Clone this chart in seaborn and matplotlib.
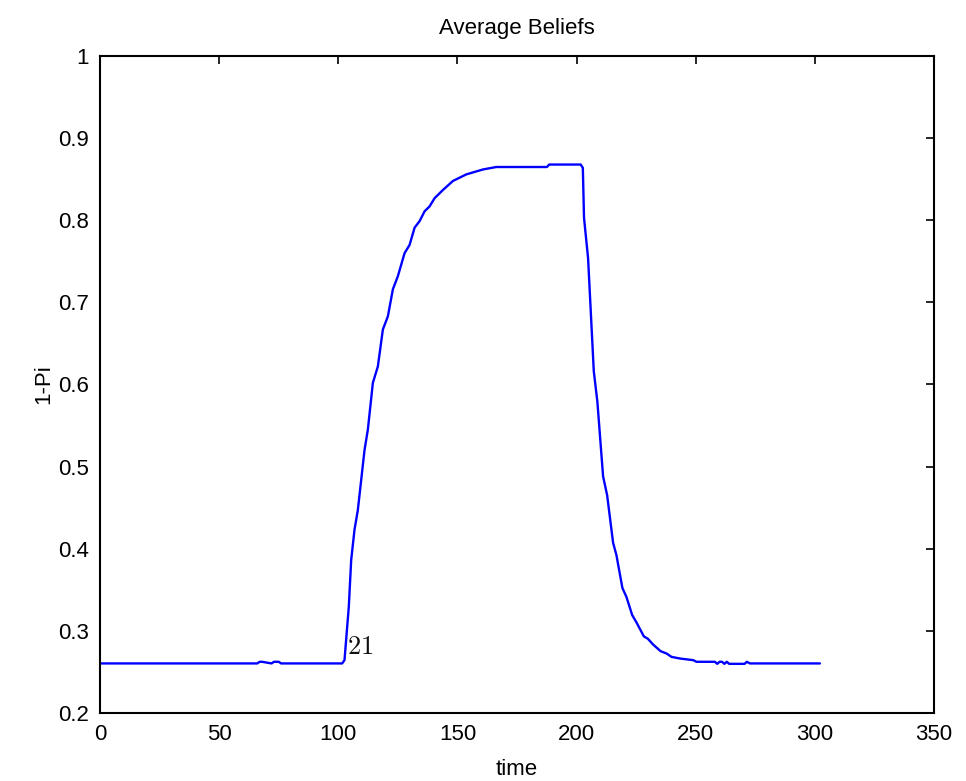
import numpy as np
import pandas as pd
import matplotlib
matplotlib.use("Agg")
import matplotlib.pyplot as plt
import seaborn as sns

# values
time = [0, 66, 67, 68, 72, 73, 75, 76, 101.6,
        102.6, 104.4, 105.4, 106.8, 108.2, 111.0, 112.4, 114.5, 116.6, 118.7,
        120.8, 122.9, 125.0, 127.8, 129.9, 132.0, 134.1, 136.2, 138.3, 140.4,
        143.9, 148.1, 153.7, 160.7, 166.3, 187.5, 188.5, 201.7,
        202.6, 203.1, 204.8, 207.2, 208.7, 211.1, 212.8, 215.3, 216.7, 219.2,
        220.9, 223.3, 225.1, 228.2, 229.9, 232.1, 235.2, 237.8, 239.8, 243.3,
        248.9, 250.3, 258.0, 259.0, 260.0, 261.0, 262.0, 263.0, 264.0, 265.6,
        270.5, 271.4, 272.7, 302.1]
belief = [0.26, 0.26, 0.262, 0.262, 0.26, 0.262, 0.262, 0.26, 0.26,
          0.264, 0.329, 0.386, 0.423, 0.447, 0.520, 0.545, 0.602, 0.622, 0.667,
          0.683, 0.716, 0.732, 0.760, 0.770, 0.791, 0.799, 0.811, 0.817, 0.827,
          0.837, 0.848, 0.856, 0.862, 0.865, 0.865, 0.868, 0.868,
          0.864, 0.803, 0.754, 0.616, 0.579, 0.488, 0.465, 0.407, 0.392, 0.352,
          0.341, 0.319, 0.310, 0.293, 0.290, 0.283, 0.275, 0.272, 0.268, 0.266,
          0.264, 0.262, 0.262, 0.2595, 0.262, 0.262, 0.2595, 0.262, 0.2595, 0.2595,
          0.2595, 0.262, 0.26, 0.26]
ytick_labels = ["0.2", "0.3", "0.4", "0.5", "0.6", "0.7", "0.8", "0.9", "1"]

df = pd.DataFrame({"time": time, "belief": belief})

sns.set_style("white")
plt.rcParams["font.family"] = ["Liberation Sans", "DejaVu Sans"]
plt.rcParams["mathtext.fontset"] = "cm"
plt.rcParams["xtick.direction"] = "in"
plt.rcParams["ytick.direction"] = "in"
for k in ["text.color", "axes.labelcolor", "xtick.color", "ytick.color"]:
    plt.rcParams[k] = "black"

fig, ax = plt.subplots(figsize=(9.66, 7.81), dpi=100)
fig.subplots_adjust(left=0.1035, right=0.967, top=0.928, bottom=0.0875)

sns.lineplot(data=df, x="time", y="belief", ax=ax, color="#0000ff",
             linewidth=1.7, sort=False, estimator=None)

ax.set_xlim(0, 350)
ax.set_ylim(0.2, 1)
ax.set_xticks(np.arange(0, 351, 50))
ax.set_yticks(np.arange(0.2, 1.01, 0.1))
ax.set_yticklabels(ytick_labels)
ax.tick_params(axis="both", which="both", labelsize=16, length=6, width=1.2,
               color="black", labelcolor="black", top=True, right=True, pad=8)
for s in ax.spines.values():
    s.set_color("black")
    s.set_linewidth(1.5)

ax.set_title("Average Beliefs", fontsize=16, pad=16, color="black")
ax.set_xlabel("time", fontsize=16, labelpad=10)
ax.set_ylabel("1-Pi", fontsize=16, labelpad=3)
ax.text(103.5, 0.2715, "$21$", fontsize=19, color="#111111")

fig.savefig("out.png", dpi=100)
